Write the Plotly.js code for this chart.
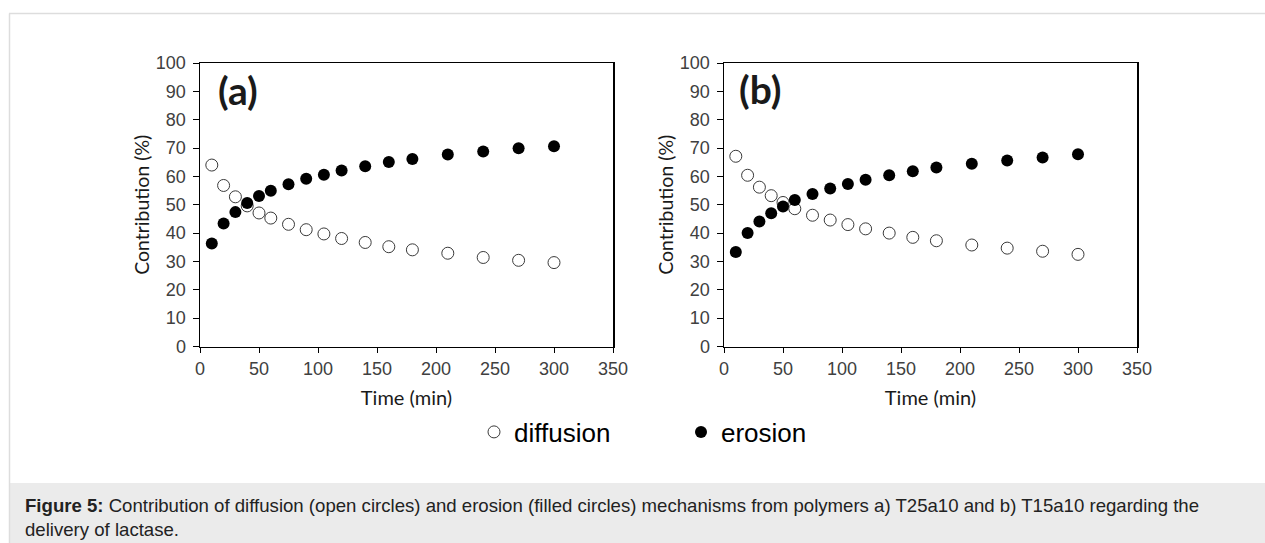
<!DOCTYPE html>
<html>
<head>
<meta charset="utf-8">
<script src="https://cdn.plot.ly/plotly-3.0.1.min.js"></script>
<style>html,body{margin:0;padding:0;background:#fff;}#chart{width:1265px;height:543px;}</style>
</head>
<body>
<div id="chart"></div>
<script>
// Time points (min)
const time = [10, 20, 30, 40, 50, 60, 75, 90, 105, 120, 140, 160, 180, 210, 240, 270, 300];
// Panel (a) T25a10
const diffusionA = [64.0, 56.8, 52.8, 49.6, 47.1, 45.3, 43.1, 41.2, 39.7, 38.1, 36.7, 35.2, 34.1, 32.9, 31.4, 30.4, 29.6];
const erosionA   = [36.3, 43.4, 47.4, 50.6, 53.1, 54.9, 57.2, 59.2, 60.6, 62.1, 63.6, 65.1, 66.1, 67.7, 68.8, 69.9, 70.6];
// Panel (b) T15a10
const diffusionB = [67.1, 60.4, 56.2, 53.2, 50.8, 48.6, 46.3, 44.6, 43.0, 41.5, 40.0, 38.5, 37.3, 35.8, 34.7, 33.6, 32.5];
const erosionB   = [33.3, 40.0, 44.1, 47.0, 49.4, 51.7, 53.8, 55.7, 57.3, 58.8, 60.4, 61.8, 63.1, 64.5, 65.6, 66.7, 67.8];
// Labels
const seriesNames = ["diffusion", "erosion"];
const panelLabels = ["(a)", "(b)"];
const xTitle = "Time (min)";
const yTitle = "Contribution (%)";
const caption = "<b>Figure 5:</b> Contribution of diffusion (open circles) and erosion (filled circles) mechanisms from polymers a) T25a10 and b) T15a10 regarding the<br>delivery of lactase.";

const W = 1265, H = 543;
const px = v => v / W;
const py = v => 1 - v / H;

const openMarker = {symbol: "circle", size: 12, color: "#ffffff", line: {color: "#3a3a3a", width: 1}};
const filledMarker = {symbol: "circle", size: 12, color: "#000000", line: {color: "#000000", width: 0}};

const traces = [
  {x: time, y: diffusionA, xaxis: "x", yaxis: "y", mode: "markers", name: seriesNames[0], marker: openMarker, showlegend: true},
  {x: time, y: erosionA, xaxis: "x", yaxis: "y", mode: "markers", name: seriesNames[1], marker: filledMarker, showlegend: true},
  {x: time, y: diffusionB, xaxis: "x2", yaxis: "y2", mode: "markers", name: seriesNames[0], marker: openMarker, showlegend: false},
  {x: time, y: erosionB, xaxis: "x2", yaxis: "y2", mode: "markers", name: seriesNames[1], marker: filledMarker, showlegend: false}
];

const tickFont = {family: "Liberation Sans, Arial, sans-serif", size: 18, color: "#404040"};
const xTitleFont = {family: "Lato, Open Sans, sans-serif", size: 20, color: "#1a1a1a"};
const yTitleFont = {family: "Lato, Open Sans, sans-serif", size: 19.5, color: "#1a1a1a"};

function xAxis(domain, anchor) {
  return {
    domain: domain, anchor: anchor, range: [0, 350], dtick: 50, tick0: 0,
    showgrid: false, zeroline: false, showline: true, mirror: true,
    linecolor: "#000", linewidth: 1.5, ticks: "outside", ticklen: 5, tickwidth: 1, tickcolor: "#000",
    tickfont: tickFont, title: {text: xTitle, font: xTitleFont, standoff: 13}
  };
}
function yAxis(domain, anchor) {
  return {
    domain: domain, anchor: anchor, range: [0, 100], dtick: 10, tick0: 0,
    showgrid: false, zeroline: false, showline: true, mirror: true,
    linecolor: "#000", linewidth: 1.5, ticks: "outside", ticklen: 6, tickwidth: 1, tickcolor: "#000",
    ticklabelstandoff: 3,
    tickfont: tickFont, title: {text: yTitle, font: yTitleFont, standoff: 1}
  };
}

const yDom = [py(346.5), py(63)];
const layout = {
  width: W, height: H,
  margin: {l: 0, r: 0, t: 0, b: 0},
  paper_bgcolor: "#ffffff", plot_bgcolor: "#ffffff",
  xaxis: xAxis([px(200), px(613)], "y"),
  yaxis: yAxis(yDom, "x"),
  xaxis2: xAxis([px(724), px(1137)], "y2"),
  yaxis2: yAxis(yDom, "x2"),
  showlegend: true,
  legend: {
    orientation: "h", x: px(474), y: py(432), xanchor: "left", yanchor: "middle",
    font: {family: "Liberation Sans, Arial, sans-serif", size: 26, color: "#000"},
    entrywidth: 162, entrywidthmode: "pixels", bgcolor: "rgba(0,0,0,0)"
  },
  shapes: [
    {type: "rect", xref: "paper", yref: "paper", x0: px(9), x1: 1, y0: 0, y1: py(483), fillcolor: "#ebebeb", line: {width: 0}, layer: "below"},
    {type: "line", xref: "paper", yref: "paper", x0: px(9), x1: 1, y0: py(13.5), y1: py(13.5), line: {color: "#dddddd", width: 1.5}},
    {type: "line", xref: "paper", yref: "paper", x0: px(9.5), x1: px(9.5), y0: py(13.5), y1: 0, line: {color: "#dddddd", width: 1.5}}
  ],
  annotations: [
    {text: "<b>" + panelLabels[0] + "</b>", xref: "paper", yref: "paper", x: px(237.5), y: py(90.5), xanchor: "center", yanchor: "middle", showarrow: false, font: {family: "Lato, sans-serif", size: 39, color: "#1a1a1a"}},
    {text: "<b>" + panelLabels[1] + "</b>", xref: "paper", yref: "paper", x: px(759.5), y: py(89.5), xanchor: "center", yanchor: "middle", showarrow: false, font: {family: "Lato, sans-serif", size: 39, color: "#1a1a1a"}},
    {text: caption, xref: "paper", yref: "paper", x: px(23), y: py(517.5), xanchor: "left", yanchor: "middle", align: "left", showarrow: false, font: {family: "Liberation Sans, Arial, sans-serif", size: 18.6, color: "#222"}}
  ]
};

Plotly.newPlot("chart", traces, layout, {displayModeBar: false, staticPlot: true});
</script>
</body>
</html>
